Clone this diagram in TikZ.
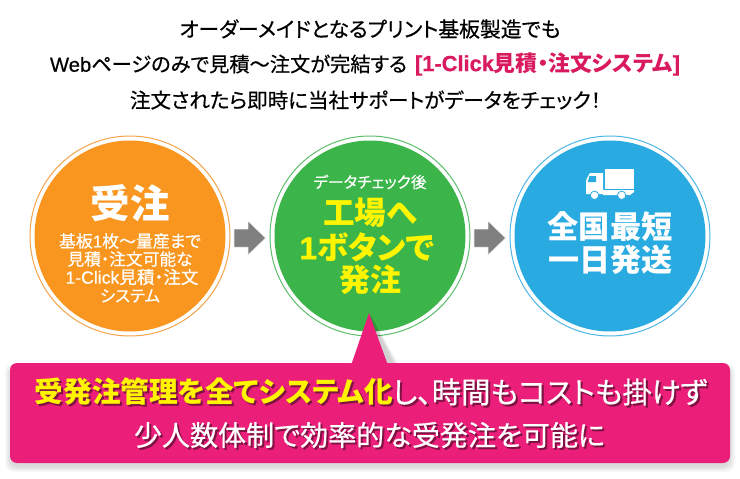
\documentclass[tikz,border=0pt]{standalone}
\usepackage{fontspec}
\usepackage{graphicx}
\setmainfont{Liberation Sans}
\newfontfamily\jpm[RawFeature=+palt,FakeBold=0.5]{Noto Sans CJK JP}
\newfontfamily\jpb[RawFeature=+palt]{Noto Sans CJK JP Black}
\newfontfamily\latm[FakeBold=0.5]{Liberation Sans}
\newfontfamily\latb[FakeBold=0.8]{Liberation Sans Bold}
\newcommand{\fw}[2]{\resizebox{#1pt}{!}{#2}}
\definecolor{pinkbox}{HTML}{EB1E79}
\definecolor{titlepink}{HTML}{D91A5E}
\definecolor{orangefill}{HTML}{F89620}
\definecolor{orangering}{HTML}{F4A34A}
\definecolor{greenfill}{HTML}{3BB54A}
\definecolor{greenring}{HTML}{5CBD6A}
\definecolor{bluefill}{HTML}{29ABE2}
\definecolor{bluering}{HTML}{4DB6E6}
\definecolor{arrowgray}{HTML}{808080}
\definecolor{yellowtext}{HTML}{FFF500}
\definecolor{shadowpink}{HTML}{7E1242}
\newcommand{\shd}[1]{\makebox[0pt][l]{\kern.07em\raisebox{-.07em}{\textcolor{shadowpink}{#1}}}#1}
\tikzset{
 txt/.style={inner sep=0pt,outer sep=0pt,anchor=center},
 titletxt/.style={txt,text=black,font=\jpm},
 whitetxt/.style={txt,text=white,font=\jpm},
 whiteboldtxt/.style={txt,text=white,font=\jpb},
 yellowboldtxt/.style={txt,text=yellowtext,font=\jpb},
 ringc/.style={circle,inner sep=0pt,minimum size=200pt,line width=1pt,fill=white},
 discc/.style={circle,inner sep=0pt,minimum size=191pt},
 blockarrow/.style={fill=arrowgray,draw=black!8,line width=.5pt},
}
\begin{document}
\begin{tikzpicture}[x=1pt,y=-1pt]
\useasboundingbox (0,0) rectangle (740,479);
\fill[color=white] (0,0) rectangle (740,479);
% heading
\node[titletxt] (h1) at (370,29) {\fw{381}{オーダーメイドとなるプリント基板製造でも}};
\node[titletxt,anchor=west] (h2) at (50,64) {\fw{357}{{\latm Web}ページのみで見積～注文が完結する}};
\node[txt,anchor=west,text=titlepink,font=\jpb] (h2b) at (415,64) {\fw{265}{{\latb [}{\latb 1-Click}見積・注文システム{\latb ]}}};
\node[titletxt] (h3) at (365.5,100) {\fw{471}{注文されたら即時に当社サポートがデータをチェック！}};
% circles
\node[ringc,draw=orangering] (c1) at (130,236) {};
\node[discc,fill=orangefill] (d1) at (130,236) {};
\node[ringc,draw=greenring] (c2) at (370,236) {};
\node[discc,fill=greenfill] (d2) at (370,236) {};
\node[ringc,draw=bluering] (c3) at (610,236) {};
\node[discc,fill=bluefill] (d3) at (610,236) {};
% arrows
\draw[blockarrow] (234,229) -- (248,229) -- (248,221) -- (265.5,238) -- (248,255) -- (248,247) -- (234,247) -- cycle;
\draw[blockarrow] (474,229) -- (488,229) -- (488,221) -- (505.5,238) -- (488,255) -- (488,247) -- (474,247) -- cycle;
% orange text
\node[whiteboldtxt] (t1) at (130,203) {\fw{79}{受注}};
\node[whitetxt] (t1a) at (130,241) {\fw{142}{基板{\latm 1}枚～量産まで}};
\node[whitetxt] (t1b) at (130,259) {\fw{125}{見積・注文可能な}};
\node[whitetxt] (t1c) at (132,277) {\fw{133}{{\latm 1-Click}見積・注文}};
\node[whitetxt] (t1d) at (130,296) {\fw{60}{システム}};
% green text
\node[whitetxt] (t2) at (370,182) {\fw{113}{データチェック後}};
\node[yellowboldtxt] (t2a) at (370,213) {\fw{94}{工場へ}};
\node[yellowboldtxt] (t2b) at (367,247) {\fw{135}{{\latb 1}ボタンで}};
\node[yellowboldtxt] (t2c) at (370,280) {\fw{62}{発注}};
% blue text
\node[whiteboldtxt] (t3a) at (610,227) {\fw{125}{全国最短}};
\node[whiteboldtxt] (t3b) at (610,260) {\fw{124}{一日発送}};
% truck
\fill[color=white] (605,169) rectangle (634,188.5);
\fill[color=white] (587,178) -- (590,173) -- (603,173) -- (603,194) -- (586,194) -- (586,181) -- cycle;
\fill[bluefill] (589.5,176) -- (596,176) -- (596,182) -- (587.8,182) -- cycle;
\fill[color=white] (603,190) -- (634,190) -- (634,192) -- (630,195) -- (603,195) -- cycle;
\filldraw[fill=white,draw=bluefill,line width=.8pt] (594.5,195.3) circle (4.2);
\filldraw[fill=white,draw=bluefill,line width=.8pt] (621.7,195.3) circle (4.2);
% soft shadow of the callout
\foreach \g in {6,5,4,3,2,1}{
  \fill[black,opacity=.025,rounded corners=8pt] (11-\g,369-\g) rectangle (729+\g,466+\g);
  \fill[black,opacity=.03] (371,316) -- (357-\g*.3,363) -- (392+\g,363) -- cycle;
}
% callout
\fill[pinkbox,rounded corners=7pt] (10,363) rectangle (730,463);
\fill[pinkbox] (369,313) -- (351.5,364) -- (387.5,364) -- cycle;
% callout text
\node[yellowboldtxt] (b1) at (214,393) {\fw{358}{\shd{受発注管理を全てシステム化}}};
\node[whitetxt] (b2) at (550,393) {\fw{315}{\shd{し、時間もコストも掛けず}}};
\node[whitetxt] (b3) at (369.5,436) {\fw{471}{\shd{少人数体制で効率的な受発注を可能に}}};
\end{tikzpicture}
\end{document}
